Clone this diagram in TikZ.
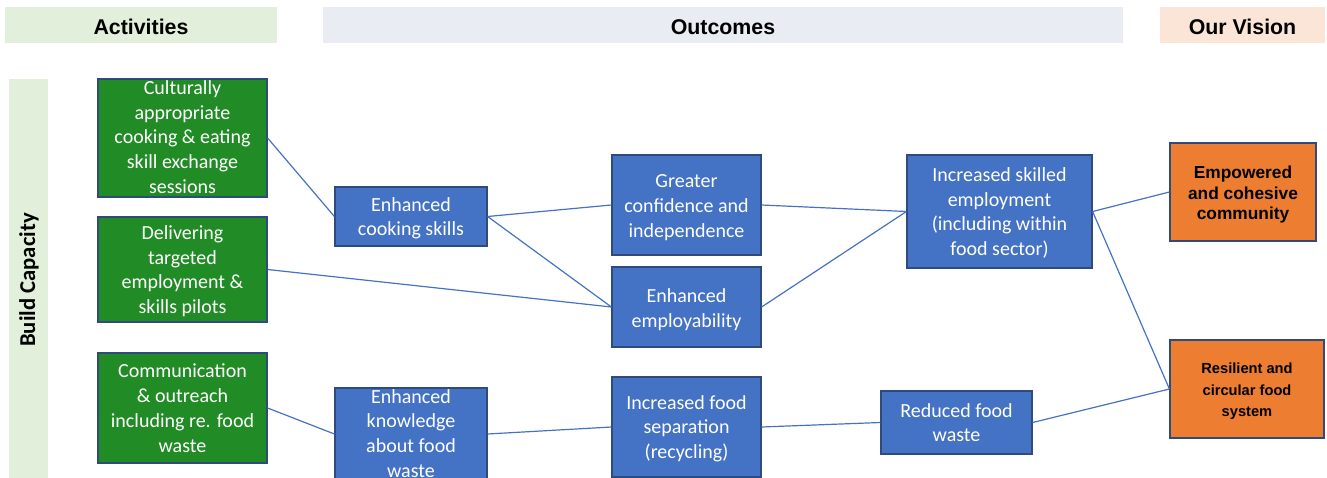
\documentclass[tikz,border=0pt]{standalone}
\usepackage{fontspec}
\setmainfont{Carlito}
\newfontfamily\arialfont{Liberation Sans}
\definecolor{actgreen}{HTML}{E2EFDA}
\definecolor{outgrey}{HTML}{E9ECF2}
\definecolor{vispeach}{HTML}{FBE5D6}
\definecolor{boxgreen}{HTML}{218B25}
\definecolor{boxblue}{HTML}{4472C4}
\definecolor{boxorange}{HTML}{ED7D31}
\definecolor{boxedge}{HTML}{2F4B7C}
\definecolor{linkblue}{HTML}{4472C4}
\newcommand\lowtext[2]{\raisebox{-#1}[\dimexpr\height-6pt\relax][\dimexpr\depth-6pt\relax]{\begin{tabular}{@{}c@{}}#2\end{tabular}}}
\tikzset{
  hdr/.style={fill=#1, draw=none, inner sep=0pt, font=\arialfont\bfseries\fontsize{16}{19}\selectfont, text=black},
  basebox/.style={draw=boxedge, line width=0.9pt, inner sep=0pt, text=white, font=\fontsize{15}{18.6}\selectfont},
  greenbox/.style={basebox, fill=boxgreen},
  bluebox/.style={basebox, fill=boxblue},
  visbox/.style={draw=boxedge, line width=0.9pt, inner sep=0pt, text=black, fill=boxorange},
  link/.style={draw=linkblue, line width=0.9pt}
}
\begin{document}
\begin{tikzpicture}[x=0.75pt,y=-0.75pt]
\useasboundingbox (0,0) rectangle (1327,478);
\clip (0,0) rectangle (1327,478);
% headers
\node[hdr=actgreen, minimum width=204pt, minimum height=27pt] (hact) at (141,25) {\lowtext{3.75pt}{Activities}};
\node[hdr=outgrey, minimum width=600pt, minimum height=27pt] (hout) at (723,25) {\lowtext{3.75pt}{Outcomes}};
\node[hdr=vispeach, minimum width=123.75pt, minimum height=27pt] (hvis) at (1242.5,25) {\lowtext{3.75pt}{Our Vision}};
% side bar
\node[fill=actgreen, draw=none, inner sep=0pt, minimum width=29.25pt, minimum height=308.25pt] (bar) at (28.5,284.5) {};
\node[rotate=90, font=\bfseries\fontsize{17}{20}\selectfont, inner sep=0pt] (barlabel) at (29,280) {Build Capacity};
% activities
\node[greenbox, minimum width=126.75pt, minimum height=88.5pt] (g1) at (182.5,138) {\lowtext{0.75pt}{Culturally\\appropriate\\cooking \& eating\\skill exchange\\sessions}};
\node[greenbox, minimum width=126.75pt, minimum height=78.75pt] (g2) at (182.5,269.5) {\lowtext{1.5pt}{Delivering\\targeted\\employment \&\\skills pilots}};
\node[greenbox, minimum width=126.75pt, minimum height=82.5pt] (g3) at (182.5,408) {\lowtext{1.5pt}{Communication\\\& outreach\\including re. food\\waste}};
% outcomes
\node[bluebox, minimum width=114pt, minimum height=44.25pt] (cook) at (411,216.5) {\lowtext{1.5pt}{Enhanced\\cooking skills}};
\node[bluebox, minimum width=114pt, minimum height=69pt] (know) at (411,434) {\lowtext{1pt}{Enhanced\\knowledge\\about food\\waste}};
\node[bluebox, minimum width=111.75pt, minimum height=75pt] (conf) at (686.5,205) {\lowtext{2pt}{Greater\\confidence and\\independence}};
\node[bluebox, minimum width=111.75pt, minimum height=60pt] (empl) at (686.5,307) {\lowtext{2.25pt}{Enhanced\\employability}};
\node[bluebox, minimum width=111.75pt, minimum height=75pt] (sep) at (686.5,427) {\lowtext{1.5pt}{Increased food\\separation\\(recycling)}};
\node[bluebox, minimum width=138.75pt, minimum height=84.75pt] (skill) at (999.5,211.5) {\lowtext{1.5pt}{Increased skilled\\employment\\(including within\\food sector)}};
\node[bluebox, minimum width=113.25pt, minimum height=47.25pt] (red) at (956.5,422.5) {\lowtext{1.5pt}{Reduced food\\waste}};
% vision
\node[visbox, minimum width=109.5pt, minimum height=73.5pt, font=\arialfont\bfseries\fontsize{13}{15.6}\selectfont] (comm) at (1243,192) {\lowtext{2.25pt}{Empowered\\and cohesive\\community}};
\node[visbox, minimum width=115.5pt, minimum height=73.5pt, font=\arialfont\bfseries\fontsize{11}{16}\selectfont] (food) at (1247,389) {\lowtext{1.5pt}{Resilient and\\circular food\\system}};
% links
\draw[link] (g1.east) -- (cook.west);
\draw[link] (g2.east) -- (empl.west);
\draw[link] (g3.east) -- (know.west);
\draw[link] (cook.east) -- (conf.west);
\draw[link] (cook.east) -- (empl.west);
\draw[link] (conf.east) -- (skill.west);
\draw[link] (empl.east) -- (skill.west);
\draw[link] (skill.east) -- (comm.west);
\draw[link] (skill.east) -- (food.west);
\draw[link] (know.east) -- (sep.west);
\draw[link] (sep.east) -- (red.west);
\draw[link] (red.east) -- (food.west);
\end{tikzpicture}
\end{document}
